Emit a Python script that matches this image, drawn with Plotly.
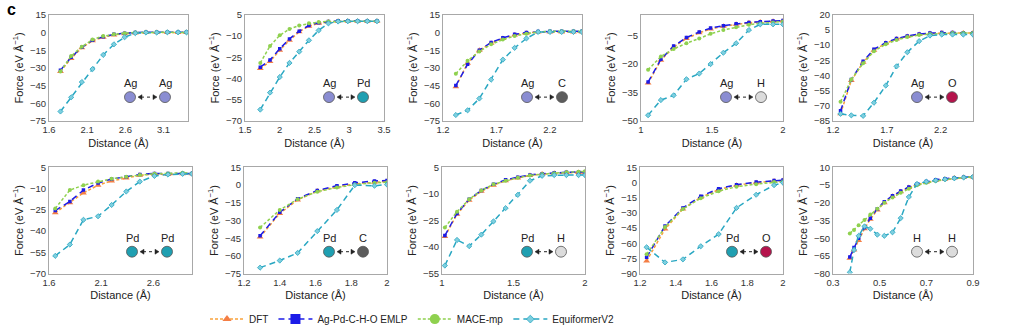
import plotly.graph_objects as go

W, H = 1009, 334

# ---------------- data: force vs. distance for each atom pair ----------------
# Ag–Ag
agag_x = [1.75, 1.89, 2.03, 2.17, 2.31, 2.45, 2.59, 2.73, 2.87, 3.01, 3.15, 3.29, 3.4]
agag_dft = [-33, -22, -13, -7, -4, -2, -1, -0.3, 0, 0, 0, 0, 0]
agag_emlp = [-32, -21, -12.5, -6.5, -3.5, -1.5, -0.5, 0, 0.3, 0.3, 0.2, 0.2, 0.2]
agag_mace = [-33, -20, -12, -6, -3, -1.5, -0.5, 0, 0.2, 0.2, 0.2, 0.1, 0.1]
agag_eqv2 = [-67, -55, -42, -31, -19, -10, -4, -0.5, 0, 0, 0.2, 0.2, 0.2]

# Ag–Pd
agpd_x = [1.72, 1.86, 2.0, 2.14, 2.28, 2.42, 2.56, 2.7, 2.84, 2.98, 3.12, 3.26, 3.4]
agpd_dft = [-33, -28, -20, -13, -7, -3, -1, 0, 0.5, 0.5, 0.5, 0.5, 0.5]
agpd_emlp = [-32, -27, -19, -12, -6.5, -2.5, -0.5, 0.3, 0.8, 0.8, 0.8, 0.7, 0.6]
agpd_mace = [-29, -17, -9.5, -5, -2.5, -1, 0, 0.3, 0.5, 0.5, 0.5, 0.5, 0.5]
agpd_eqv2 = [-62, -50, -39, -29, -21, -13, -6, -1, 0.3, 0.5, 0.5, 0.5, 0.5]

# Ag–C
agc_x = [1.32, 1.43, 1.54, 1.65, 1.76, 1.87, 1.98, 2.09, 2.2, 2.31, 2.42, 2.5]
agc_dft = [-46, -26, -15, -9, -5, -2, -0.5, 0.5, 0.5, 0.5, 0.5, 0.5]
agc_emlp = [-45, -27, -15, -8.5, -4.5, -1.5, 0, 0.8, 1, 1, 1, 1]
agc_mace = [-35, -24, -16, -10, -6, -3, -1, 0.5, 1, 1.2, 1.2, 1.2]
agc_eqv2 = [-70, -66, -56, -40, -23, -13, -5, 0.5, 0.5, 0.5, 0.5, 0.5]

# Ag–H
agh_x = [1.05, 1.14, 1.23, 1.32, 1.41, 1.49, 1.58, 1.67, 1.76, 1.84, 1.93, 2.0]
agh_dft = [-30, -18, -11, -6.5, -3.5, -1.5, 0, 1, 1.8, 2.2, 2.6, 2.8]
agh_emlp = [-29.5, -17.5, -10.5, -6, -3, -1, 0.3, 1.3, 2, 2.4, 2.8, 3]
agh_mace = [-23, -16, -12, -9, -6.5, -4, -2, -0.5, 0.8, 1.5, 2, 2.5]
agh_eqv2 = [-47, -39, -36.5, -28, -25, -20, -14, -9, -2, 1, 1, 1]

# Ag–O
ago_x = [1.27, 1.37, 1.48, 1.58, 1.69, 1.79, 1.89, 2.0, 2.1, 2.21, 2.31, 2.41, 2.5]
ago_dft = [-78, -45, -27, -15, -8, -4, -1.5, 0.5, 1.5, 2, 2, 2, 2]
ago_emlp = [-75, -44, -26, -14, -7.5, -3.5, -1, 1, 2, 2.5, 2.5, 2.3, 2.2]
ago_mace = [-66, -44, -28, -16, -9, -5, -2, 0, 1, 1.5, 2, 2, 2]
ago_eqv2 = [-78, -79.5, -80, -67, -50, -31, -17, -6, -0.5, 0.5, 0.5, 0.5, 0.5]

# Pd–Pd
pdpd_x = [1.66, 1.8, 1.93, 2.07, 2.2, 2.34, 2.47, 2.61, 2.74, 2.88, 2.97]
pdpd_dft = [-27, -20, -13, -7.5, -4.5, -2.5, -0.5, 0.3, 0, 0.5, 0.5]
pdpd_emlp = [-25.5, -19, -11, -6, -3.2, -1.5, 0, 0.8, 0.8, 1, 0.8]
pdpd_mace = [-24, -11, -7.5, -5, -3, -1.5, -0.3, 0.5, 0.8, 1.3, 0.8]
pdpd_eqv2 = [-57.5, -49.5, -32, -29.5, -21.5, -12, -5, -1, 0, 0.5, 0.5]

# Pd–C
pdc_x = [1.29, 1.4, 1.5, 1.61, 1.72, 1.82, 1.93, 2.0]
pdc_dft = [-44, -24, -12.5, -5, -1.5, 1, 2.5, 3]
pdc_emlp = [-43, -23, -11.5, -4.5, -0.5, 2, 3.5, 4]
pdc_mace = [-36, -21, -12, -5.5, -2, 0.5, 2, 2.5]
pdc_eqv2 = [-70, -64, -57.5, -39, -21, 0, -0.5, 0.5]

# Pd–H
pdh_x = [1.02, 1.105, 1.19, 1.275, 1.36, 1.445, 1.53, 1.615, 1.7, 1.785, 1.87, 1.955, 2.0]
pdh_dft = [-34, -21.5, -13.5, -8.5, -5, -2.5, -1, 0.5, 1.3, 1.7, 2, 2.2, 2.2]
pdh_emlp = [-33.5, -21, -13, -8, -4.5, -2, -0.5, 0.8, 1.5, 2, 2.3, 2.5, 2.5]
pdh_mace = [-29, -20, -13, -8, -4.5, -2.5, -0.8, 0.5, 1.3, 1.8, 2.3, 2.6, 2.8]
pdh_eqv2 = [-50.5, -36, -39.5, -33, -25.5, -18, -10.5, -2.5, 0.3, 0.7, 0.7, 0.7, 0.7]

# Pd–O
pdo_x = [1.237, 1.34, 1.44, 1.54, 1.64, 1.74, 1.85, 1.95, 2.0]
pdo_dft = [-77.5, -46, -26, -14.5, -7, -2.5, 0, 1.5, 2]
pdo_emlp = [-74, -43, -25, -13.5, -6, -2, 0.5, 2, 2.5]
pdo_mace = [-71, -44, -26, -15.5, -8.5, -4, -1.5, 0.5, 1]
pdo_eqv2 = [-64, -79, -76, -63, -51, -25, -12, -2.5, 0]

# H–H
hh_x = [0.372, 0.39, 0.41, 0.435, 0.46, 0.49, 0.52, 0.555, 0.59, 0.625, 0.66, 0.7, 0.74, 0.78, 0.82, 0.86, 0.9]
hh_dft = [-67, -60, -52, -42, -34, -26, -20, -14.5, -10.5, -7, -4.5, -2.5, -1, 0, 1, 1.5, 2]
hh_emlp = [-66, -58, -50, -41, -33, -25, -19, -14, -10, -6.5, -4, -2, -0.5, 0.5, 1.2, 1.8, 2.2]
hh_mace = [-46, -43, -39, -34.5, -30, -25, -20, -15.5, -11.5, -8, -5, -3, -1.5, -0.3, 0.8, 1.5, 2]
hh_eqv2 = [-79, -60, -48, -40, -42, -47, -48, -45, -33, -15, -4, -2, -1, 0, 0.8, 1.5, 2]

# ---------------- tick labels ----------------
agag_xticks = [1.6, 2.1, 2.6, 3.1]
agag_yticks = [-75, -60, -45, -30, -15, 0, 15]
agpd_xticks = [1.5, 2, 2.5, 3, 3.5]
agpd_yticks = [-70, -55, -40, -25, -10, 5]
agc_xticks = [1.2, 1.7, 2.2]
agc_yticks = [-75, -60, -45, -30, -15, 0, 15]
agh_xticks = [1, 1.5, 2]
agh_yticks = [-50, -35, -20, -5]
ago_xticks = [1.2, 1.7, 2.2]
ago_yticks = [-85, -70, -55, -40, -25, -10, 5, 20]
pdpd_xticks = [1.6, 2.1, 2.6]
pdpd_yticks = [-70, -55, -40, -25, -10, 5]
pdc_xticks = [1.2, 1.4, 1.6, 1.8, 2]
pdc_yticks = [-75, -60, -45, -30, -15, 0, 15]
pdh_xticks = [1, 1.5, 2]
pdh_yticks = [-55, -40, -25, -10, 5]
pdo_xticks = [1.2, 1.4, 1.6, 1.8, 2]
pdo_yticks = [-90, -75, -60, -45, -30, -15, 0, 15]
hh_xticks = [0.3, 0.5, 0.7, 0.9]
hh_yticks = [-80, -65, -50, -35, -20, -5, 10]

series_names = ["DFT", "Ag-Pd-C-H-O EMLP", "MACE-mp", "EquiformerV2"]

# ---------------- panel layout (pixel boxes: left, right, top, bottom) ----------------
panels = [
    (agag_x, [agag_dft, agag_emlp, agag_mace, agag_eqv2], [1.6, 3.42], [-75, 15], agag_xticks, agag_yticks, ("Ag", "Ag"), (49, 188, 15, 122)),
    (agpd_x, [agpd_dft, agpd_emlp, agpd_mace, agpd_eqv2], [1.5, 3.5], [-70, 5], agpd_xticks, agpd_yticks, ("Ag", "Pd"), (245, 384, 15, 122)),
    (agc_x, [agc_dft, agc_emlp, agc_mace, agc_eqv2], [1.2, 2.5], [-75, 15], agc_xticks, agc_yticks, ("Ag", "C"), (443, 582, 15, 122)),
    (agh_x, [agh_dft, agh_emlp, agh_mace, agh_eqv2], [1, 2], [-50, 6], agh_xticks, agh_yticks, ("Ag", "H"), (641, 783, 15, 122)),
    (ago_x, [ago_dft, ago_emlp, ago_mace, ago_eqv2], [1.2, 2.5], [-85, 20], ago_xticks, ago_yticks, ("Ag", "O"), (833, 973, 15, 122)),
    (pdpd_x, [pdpd_dft, pdpd_emlp, pdpd_mace, pdpd_eqv2], [1.6, 2.97], [-70, 5], pdpd_xticks, pdpd_yticks, ("Pd", "Pd"), (49, 192, 169, 276)),
    (pdc_x, [pdc_dft, pdc_emlp, pdc_mace, pdc_eqv2], [1.2, 2], [-75, 15], pdc_xticks, pdc_yticks, ("Pd", "C"), (244, 387, 169, 276)),
    (pdh_x, [pdh_dft, pdh_emlp, pdh_mace, pdh_eqv2], [1, 2], [-55, 5], pdh_xticks, pdh_yticks, ("Pd", "H"), (442, 585, 169, 276)),
    (pdo_x, [pdo_dft, pdo_emlp, pdo_mace, pdo_eqv2], [1.2, 2], [-90, 15], pdo_xticks, pdo_yticks, ("Pd", "O"), (640, 783, 169, 276)),
    (hh_x, [hh_dft, hh_emlp, hh_mace, hh_eqv2], [0.3, 0.9], [-80, 10], hh_xticks, hh_yticks, ("H", "H"), (833, 973, 169, 276)),
]

# atom centres inside each panel (pixels) and element colours
atom_pos = [
    (130, 165, 98), (329, 363, 98), (527, 562, 98), (726, 761, 98), (917, 952, 98),
    (132, 167, 254), (329, 363, 254), (527, 561, 254), (732, 766, 254), (917, 952, 254),
]
element_color = {"Ag": "#8a8dd2", "Pd": "#1f9fb1", "C": "#5c5c5c", "H": "#dcdcdc", "O": "#b5134c"}

styles = [
    dict(line=dict(color="#f9a23c", width=1.5, dash="3px,2px"), marker=dict(symbol="triangle-up", size=6, color="#f47e45")),
    dict(line=dict(color="#1c1ce8", width=1.5, dash="6px,4px"), marker=dict(symbol="square", size=3.5, color="#1c1ce8")),
    dict(line=dict(color="#8fd14f", width=1.5, dash="3px,2px"), marker=dict(symbol="circle", size=4, color="#8fd14f")),
    dict(line=dict(color="#29a7c2", width=1.5, dash="6px,4px"), marker=dict(symbol="diamond", size=4, color="#7fcfdf", line=dict(color="#29a7c2", width=0.8))),
]
legend_marker_sizes = [8, 10, 10, 6]


def px(x):
    return x / W


def py(y):
    return 1 - y / H


def head_path(tip_x, tip_y, direction):
    # small filled triangle whose tip sits at (tip_x, tip_y), pointing left (-1) or right (+1)
    back = tip_x - direction * 4
    pts = [(tip_x, tip_y), (back, tip_y - 2.5), (back, tip_y + 2.5)]
    return "M " + " L ".join(f"{px(a):.5f},{py(b):.5f}" for a, b in pts) + " Z"


fig = go.Figure()
layout = dict(
    width=W, height=H, margin=dict(l=0, r=0, t=0, b=0), template="none",
    paper_bgcolor="white", plot_bgcolor="white",
    font=dict(family="Liberation Sans, Arial, sans-serif", size=10, color="#222"),
    showlegend=True,
    legend=dict(orientation="h", x=px(205), xanchor="left", y=py(322), yanchor="middle",
                font=dict(size=10, color="#222"), itemwidth=34, tracegroupgap=0),
)
shapes, annotations = [], []

for i, (xs, ys_list, xr, yr, xt, yt, atoms, box) in enumerate(panels):
    k = "" if i == 0 else str(i + 1)
    l, r, t, b = box
    for ys, st in zip(ys_list, styles):
        fig.add_trace(go.Scatter(x=xs, y=ys, mode="lines+markers", xaxis="x" + k, yaxis="y" + k,
                                 line=st["line"], marker=st["marker"], showlegend=False, hoverinfo="skip"))
    axis_common = dict(showline=True, mirror=True, linecolor="#a8a8a8", linewidth=1, showgrid=False,
                       zeroline=False, ticks="", automargin=False, tickfont=dict(size=9.5, color="#333"))
    layout["xaxis" + k] = dict(axis_common, domain=[px(l), px(r)], range=xr, tickvals=xt, anchor="y" + k,
                               title=dict(text="Distance (Å)", font=dict(size=11, color="#222"), standoff=4))
    layout["yaxis" + k] = dict(axis_common, domain=[py(b), py(t)], range=yr, tickvals=yt, anchor="x" + k,
                               title=dict(text="Force (eV Å<sup>−1</sup>)", font=dict(size=11, color="#222"), standoff=4))

    # atom pair glyph: two spheres joined by a dotted double arrow
    c1, c2, cy = atom_pos[i]
    rad = 5.5
    for cx, el in zip((c1, c2), atoms):
        shapes.append(dict(type="circle", xref="paper", yref="paper",
                           x0=px(cx - rad), x1=px(cx + rad), y0=py(cy + rad), y1=py(cy - rad),
                           fillcolor=element_color[el], line=dict(color="#555", width=0.8)))
        annotations.append(dict(x=px(cx), y=py(cy - 14), xref="paper", yref="paper", text=el,
                                xanchor="center", yanchor="middle",
                                showarrow=False, font=dict(size=11, color="#222")))
    shapes.append(dict(type="line", xref="paper", yref="paper", x0=px(c1 + 11), x1=px(c2 - 11),
                       y0=py(cy), y1=py(cy), line=dict(color="#222", width=1, dash="dot")))
    for tip, d in ((c1 + 8, -1), (c2 - 8, 1)):
        shapes.append(dict(type="path", xref="paper", yref="paper", path=head_path(tip, cy, d),
                           fillcolor="#222", line=dict(color="#222", width=0.5)))

# legend entries
for name, st, ms in zip(series_names, styles, legend_marker_sizes):
    mk = dict(st["marker"], size=ms)
    fig.add_trace(go.Scatter(x=[None], y=[None], mode="lines+markers", name=name,
                             line=st["line"], marker=mk, showlegend=True))

annotations.append(dict(x=px(11), y=py(10), xref="paper", yref="paper", text="<b>c</b>",
                        xanchor="center", yanchor="middle",
                        showarrow=False, font=dict(size=16, color="#000")))
layout["shapes"] = shapes
layout["annotations"] = annotations
fig.update_layout(**layout)
fig.write_html("out.html")
